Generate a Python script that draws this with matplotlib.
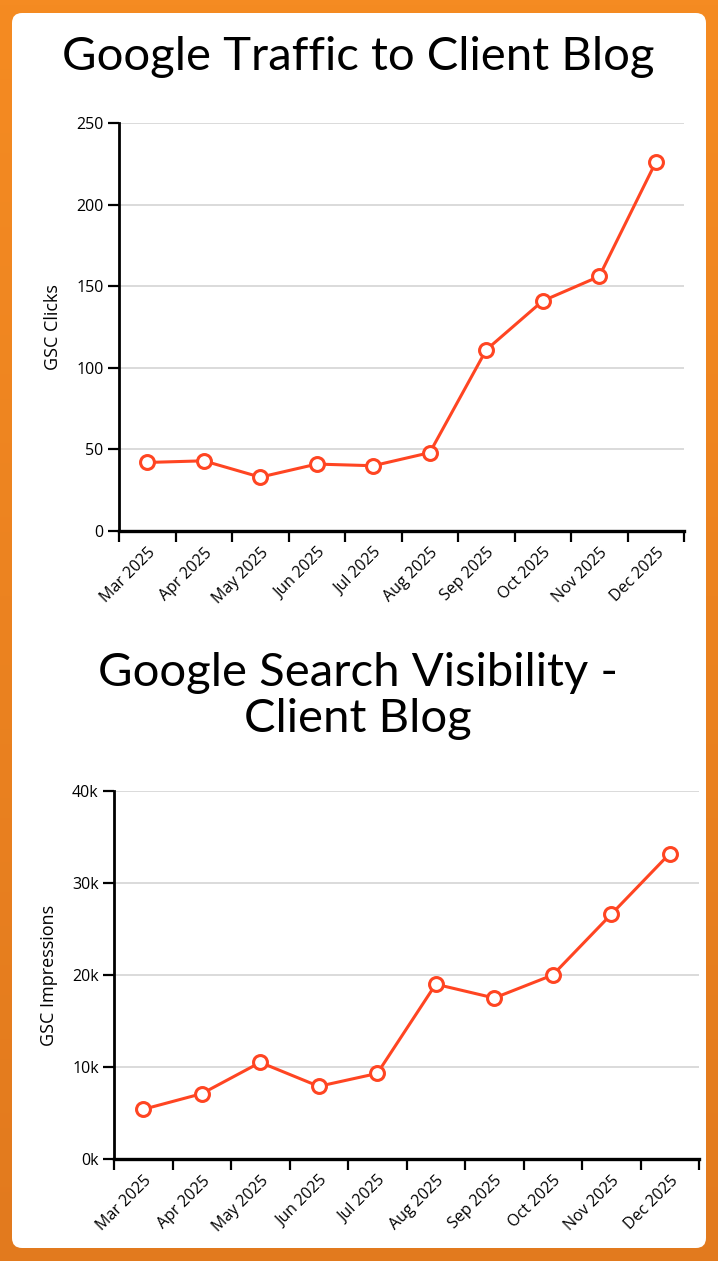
import numpy as np
import matplotlib
matplotlib.use("Agg")
import matplotlib.pyplot as plt
from matplotlib.patches import FancyBboxPatch
from matplotlib.ticker import FixedLocator, FuncFormatter

# data
months = ["Mar 2025", "Apr 2025", "May 2025", "Jun 2025", "Jul 2025",
          "Aug 2025", "Sep 2025", "Oct 2025", "Nov 2025", "Dec 2025"]
clicks = [42, 43, 33, 41, 40, 48, 111, 141, 156, 226]
impressions = [5400, 7100, 10500, 7900, 9300, 19000, 17500, 20000, 26600, 33200]

line_col = "#FF4522"
tick_font = "Open Sans"
title_font = "Lato"

fig = plt.figure(figsize=(7.18, 12.61), dpi=100)

# orange backdrop with a soft vertical gradient
bg = fig.add_axes([0, 0, 1, 1], zorder=-10)
grad = np.linspace(0, 1, 256).reshape(-1, 1)
cmap = matplotlib.colors.LinearSegmentedColormap.from_list("bg", ["#F58B22", "#E27A1E"])
bg.imshow(grad, aspect="auto", cmap=cmap, extent=[0, 1, 0, 1])
bg.set_xlim(0, 1)
bg.set_ylim(0, 1)
bg.axis("off")

# white card
card = FancyBboxPatch((12 / 718, 13 / 1261), (706 - 12) / 718, (1248 - 13) / 1261,
                      boxstyle="round,pad=0,rounding_size=0.014",
                      transform=fig.transFigure, facecolor="white", edgecolor="none",
                      mutation_aspect=718 / 1261, zorder=-5)
fig.patches.append(card)


def draw(ax, vals, ymax, ystep, ylabel, fmt):
    x = np.arange(len(vals))
    ax.set_xlim(-0.5, len(vals) - 0.5)
    ax.set_ylim(0, ymax)
    yt = np.arange(0, ymax + 1, ystep)
    ax.set_yticks(yt)
    ax.yaxis.set_major_formatter(FuncFormatter(fmt))
    for v in yt[1:]:
        ax.axhline(v, color="#d4d4d4", lw=1.2, zorder=0)
    ax.plot(x, vals, color=line_col, lw=2.2, marker="o", ms=10,
            mfc="white", mec=line_col, mew=2.2, zorder=3, clip_on=False)
    ax.set_xticks(x)
    ax.set_xticklabels(months, rotation=45, ha="right", rotation_mode="anchor",
                       fontfamily=tick_font, fontsize=11.5)
    ax.xaxis.set_minor_locator(FixedLocator(np.arange(-0.5, len(vals), 1.0)))
    ax.tick_params(axis="x", which="major", length=0, pad=10)
    ax.tick_params(axis="x", which="minor", length=8, width=1.6, color="black")
    ax.tick_params(axis="y", length=8, width=1.6, pad=3, labelsize=11.5)
    for lab in ax.get_yticklabels():
        lab.set_fontfamily(tick_font)
    for s in ["top", "right"]:
        ax.spines[s].set_visible(False)
    ax.spines["left"].set_linewidth(2)
    ax.spines["bottom"].set_linewidth(2.4)
    ax.set_ylabel(ylabel, fontfamily=tick_font, fontsize=13, labelpad=10)
    ax.set_facecolor("none")


ax1 = fig.add_axes([119 / 718, 1 - 531 / 1261, 565 / 718, 408 / 1261])
draw(ax1, clicks, 250, 50, "GSC Clicks", lambda v, p: f"{int(v)}")

ax2 = fig.add_axes([114 / 718, 1 - 1159 / 1261, 585 / 718, 368 / 1261])
draw(ax2, impressions, 40000, 10000, "GSC Impressions", lambda v, p: f"{int(v / 1000)}k")

fig.text(358 / 718, 1 - 57 / 1261, "Google Traffic to Client Blog",
         ha="center", va="center", fontfamily=title_font, fontsize=34)
fig.text(358 / 718, 1 - 696 / 1261, "Google Search Visibility -\nClient Blog",
         ha="center", va="center", fontfamily=title_font, fontsize=34,
         linespacing=1.12)

fig.savefig("out.png", dpi=100)
